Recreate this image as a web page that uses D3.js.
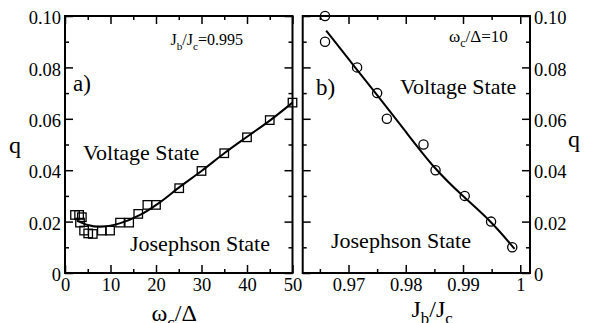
<!DOCTYPE html>
<html>
<head>
<meta charset="utf-8">
<script src="https://cdn.jsdelivr.net/npm/d3@7"></script>
<style>
  body { margin: 0; background: #fff; }
  .axis line { stroke: #000; stroke-width: 1.5; }
  .frame { fill: none; stroke: #000; stroke-width: 2; }
  .fit { fill: none; stroke: #000; stroke-width: 2; }
  .mark { fill: none; stroke: #000; stroke-width: 1.3; }
</style>
</head>
<body>
<div id="graph"></div>
<script>
(function() {
    const width = 589, height = 323;
    const fontName = "Liberation Serif";

    // panel a) q vs omega_c/Delta, Jb/Jc = 0.995
    const omegaData = [2.2, 3.1, 3.7, 3.3, 4.2, 5.1, 6.1, 8.1, 9.9, 12.1, 14.1, 16.1, 18.1, 20, 25.1, 30, 35, 40, 45, 50];
    const qDataA = [0.0226, 0.0226, 0.0217, 0.0196, 0.0165, 0.0154, 0.0152, 0.0165, 0.0165, 0.0196, 0.0196, 0.023, 0.0265, 0.0265, 0.033, 0.0397, 0.0466, 0.0528, 0.0595, 0.0663];
    const omegaFit = [2.6, 5, 7.7, 12, 16.5, 21, 25.3, 30, 35, 40, 45, 50];
    const qFitA = [0.0205, 0.0187, 0.018, 0.0193, 0.0226, 0.0277, 0.0336, 0.0397, 0.0466, 0.053, 0.0593, 0.0663];

    // panel b) q vs Jb/Jc, omega_c/Delta = 10
    const jData = [0.9659, 0.9659, 0.9715, 0.975, 0.9767, 0.9831, 0.9852, 0.9903, 0.9949, 0.9986];
    const qDataB = [0.10, 0.09, 0.08, 0.07, 0.06, 0.05, 0.04, 0.03, 0.02, 0.01];
    const jFit = [0.9661, 0.9715, 0.975, 0.980, 0.985, 0.990, 0.995, 0.999];
    const qFitB = [0.0943, 0.0790, 0.0693, 0.0550, 0.0405, 0.0298, 0.0200, 0.0094];

    // ticks
    const omegaTicks = [0, 10, 20, 30, 40, 50];
    const omegaTickLabels = ["0", "10", "20", "30", "40", "50"];
    const omegaMinor = [5, 15, 25, 35, 45];
    const jTicks = [0.97, 0.98, 0.99, 1];
    const jTickLabels = ["0.97", "0.98", "0.99", "1"];
    const jMinor = [0.965, 0.975, 0.985, 0.995];
    const qTicks = [0, 0.02, 0.04, 0.06, 0.08, 0.10];
    const qTickLabels = ["0", "0.02", "0.04", "0.06", "0.08", "0.10"];
    const qMinor = [0.01, 0.03, 0.05, 0.07, 0.09];

    const svg = d3.select("#graph")
        .append("svg")
        .attr("width", width)
        .attr("height", height);

    // look the serif faces up before drawing any text
    const ctx = document.createElement("canvas").getContext("2d");
    [fontName, "Times New Roman", "Times", "Tinos", "monospace"].forEach(f => {
        ctx.font = "20px '" + f + "', monospace";
        ctx.measureText("Josephson State 0.995");
        ctx.font = "20px monospace";
        ctx.measureText("Josephson State 0.995");
        document.fonts.check("20px '" + f + "'");
    });

    const yRange = d3.scaleLinear().domain([0, 0.1]).range([273, 16]);
    const xRangeA = d3.scaleLinear().domain([0, 50]).range([65, 292.5]);
    const xRangeB = d3.scaleLinear().domain([0.962, 1.0017]).range([302.7, 530]);

    function noDomain(g) {
        g.select(".domain").remove();
        g.attr("font-family", null).attr("font-size", null);
    }

    // frame + inward ticks on all four sides
    function drawFrame(xRange, xTicks, xLabels, xMinor, labelRight) {
        const [x0, x1] = xRange.range();
        const [yb, yt] = yRange.range();
        const g = svg.append("g");

        g.append("rect").attr("class", "frame")
            .attr("x", x0).attr("y", yt)
            .attr("width", x1 - x0).attr("height", yb - yt);

        g.append("g").attr("class", "axis xaxis").attr("transform", "translate(0," + yb + ")")
            .call(d3.axisBottom(xRange).tickValues(xTicks).tickFormat((d, i) => xLabels[i])
                .tickSizeInner(-8).tickSizeOuter(0).tickPadding(5))
            .call(noDomain);
        g.append("g").attr("class", "axis").attr("transform", "translate(0," + yb + ")")
            .call(d3.axisBottom(xRange).tickValues(xMinor).tickFormat("").tickSizeInner(-4).tickSizeOuter(0))
            .call(noDomain);
        g.append("g").attr("class", "axis").attr("transform", "translate(0," + yt + ")")
            .call(d3.axisTop(xRange).tickValues(xTicks).tickFormat("").tickSizeInner(-8).tickSizeOuter(0))
            .call(noDomain);
        g.append("g").attr("class", "axis").attr("transform", "translate(0," + yt + ")")
            .call(d3.axisTop(xRange).tickValues(xMinor).tickFormat("").tickSizeInner(-4).tickSizeOuter(0))
            .call(noDomain);
        g.append("g").attr("class", "axis yaxis").attr("transform", "translate(" + x0 + ",0)")
            .call(d3.axisLeft(yRange).tickValues(qTicks)
                .tickFormat((d, i) => labelRight ? "" : qTickLabels[i])
                .tickSizeInner(-8).tickSizeOuter(0).tickPadding(4))
            .call(noDomain);
        g.append("g").attr("class", "axis").attr("transform", "translate(" + x0 + ",0)")
            .call(d3.axisLeft(yRange).tickValues(qMinor).tickFormat("").tickSizeInner(-4).tickSizeOuter(0))
            .call(noDomain);
        g.append("g").attr("class", "axis yaxis").attr("transform", "translate(" + x1 + ",0)")
            .call(d3.axisRight(yRange).tickValues(qTicks)
                .tickFormat((d, i) => labelRight ? qTickLabels[i] : "")
                .tickSizeInner(-8).tickSizeOuter(0).tickPadding(4))
            .call(noDomain);
        g.append("g").attr("class", "axis").attr("transform", "translate(" + x1 + ",0)")
            .call(d3.axisRight(yRange).tickValues(qMinor).tickFormat("").tickSizeInner(-4).tickSizeOuter(0))
            .call(noDomain);

        g.selectAll(".axis text").attr("data-size", 18.5);
        g.selectAll(".yaxis text").attr("dy", "0.42em");
    }

    drawFrame(xRangeA, omegaTicks, omegaTickLabels, omegaMinor, false);
    drawFrame(xRangeB, jTicks, jTickLabels, jMinor, true);

    // fitted curves
    const lineA = d3.line().x(d => xRangeA(d[0])).y(d => yRange(d[1])).curve(d3.curveMonotoneX);
    svg.append("path").attr("class", "fit")
        .attr("d", lineA(d3.zip(omegaFit, qFitA)));

    const lineB = d3.line().x(d => xRangeB(d[0])).y(d => yRange(d[1])).curve(d3.curveBasis);
    svg.append("path").attr("class", "fit")
        .attr("d", lineB(d3.zip(jFit, qFitB)));

    // squares (panel a)
    const sq = 8.5;
    svg.selectAll(".sq")
        .data(d3.zip(omegaData, qDataA))
        .enter()
        .append("rect")
        .attr("class", "mark sq")
        .attr("x", d => xRangeA(d[0]) - sq / 2)
        .attr("y", d => yRange(d[1]) - sq / 2)
        .attr("width", sq)
        .attr("height", sq);

    // circles (panel b)
    svg.selectAll(".circ")
        .data(d3.zip(jData, qDataB))
        .enter()
        .append("circle")
        .attr("class", "mark circ")
        .attr("cx", d => xRangeB(d[0]))
        .attr("cy", d => yRange(d[1]))
        .attr("r", 4.6);

    // text with subscripts: parts = [[string, isSub], ...]
    function richText(x, y, size, parts) {
        const t = svg.append("text").attr("x", x).attr("y", y).attr("data-size", size);
        if (parts.length === 1) {
            t.text(parts[0][0]);
            return t;
        }
        let down = false;
        parts.forEach(p => {
            const ts = t.append("tspan").text(p[0]);
            if (p[1]) {
                ts.attr("data-size", size * 0.7).attr("dy", size * 0.3);
                down = true;
            } else {
                ts.attr("data-size", size);
                if (down) {
                    ts.attr("dy", -(size * 0.3));
                    down = false;
                }
            }
        });
        return t;
    }

    richText(170.5, 45, 16, [["J"], ["b", true], ["/J"], ["c", true], ["=0.995"]]);
    richText(449, 42, 17, [["\u03c9"], ["c", true], ["/\u0394=10"]]);
    richText(73, 91, 23, [["a)"]]);
    richText(316, 95, 23, [["b)"]]);
    richText(83, 160, 22, [["Voltage State"]]);
    richText(130, 251, 22, [["Josephson State"]]);
    richText(400, 94, 22, [["Voltage State"]]);
    richText(331, 248, 22, [["Josephson State"]]);
    richText(9, 153, 24, [["q"]]);
    richText(568, 147, 24, [["q"]]);
    richText(151.5, 321, 24, [["\u03c9"], ["c", true], ["/\u0394"]]);
    richText(411.5, 317, 24, [["J"], ["b", true], ["/J"], ["c", true]]);

    // apply the serif face to every text (again once the face is loaded)
    function applyFont() {
        svg.selectAll("text, tspan").each(function() {
            const s = +this.getAttribute("data-size");
            d3.select(this)
                .style("font-family", "'" + fontName + "'")
                .style("font-size", s + "px");
        });
    }
    applyFont();
    if (document.fonts && document.fonts.load) {
        document.fonts.load("20px '" + fontName + "'").then(applyFont).catch(() => {});
        document.fonts.ready.then(applyFont);
    }
})();
</script>
</body>
</html>
